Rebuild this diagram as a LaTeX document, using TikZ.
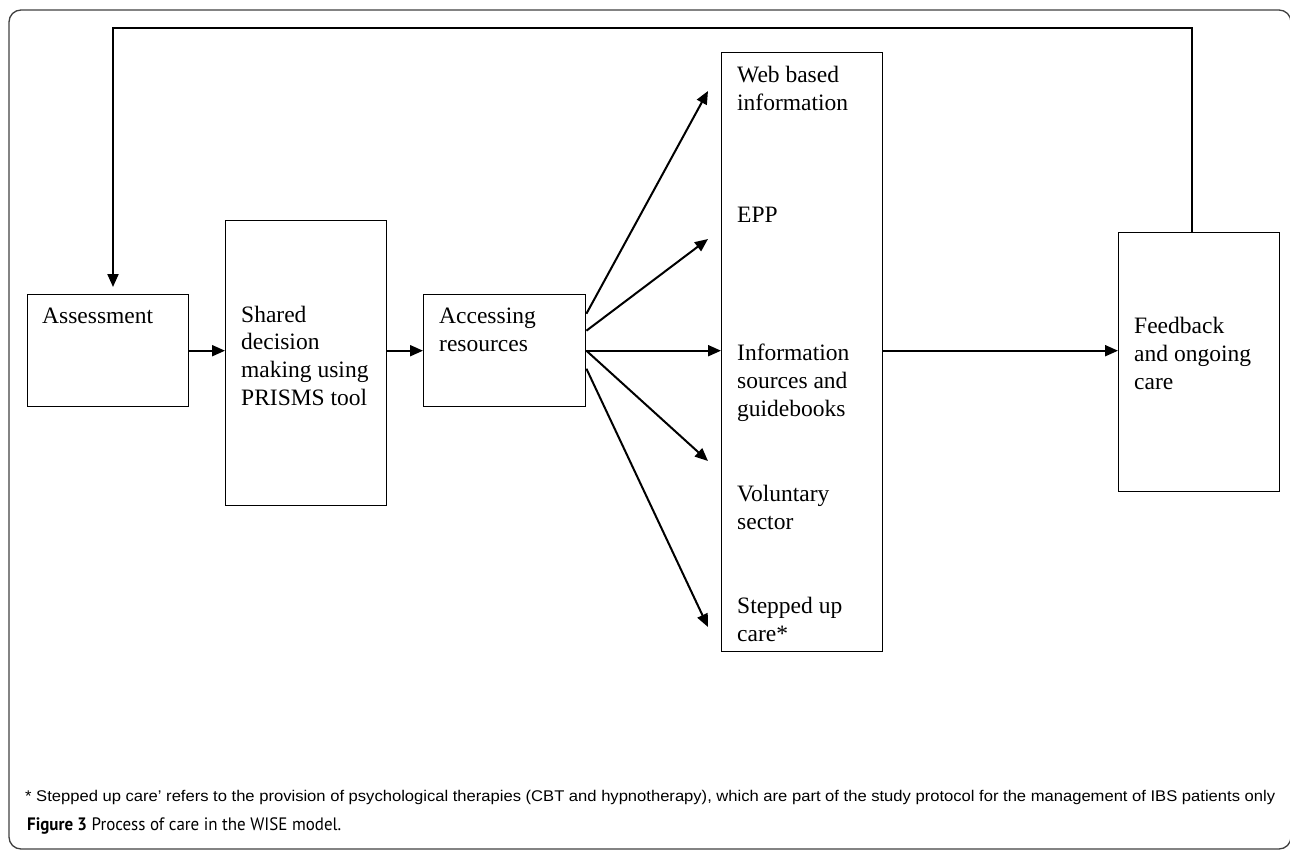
\documentclass[tikz,border=0pt]{standalone}
\usepackage{fontspec}
\usepackage{graphicx}
\setmainfont{Liberation Serif}
\newfontfamily\notefont{Liberation Sans}
\newfontfamily\capfont{PT Sans}
\usetikzlibrary{arrows.meta}

\begin{document}
\begin{tikzpicture}[x=1pt,y=-1pt,
  boxline/.style={draw=black, line width=1.4pt, inner sep=0pt, anchor=north west},
  flow/.style={line width=2pt, -{Triangle[length=13pt,width=11pt]}},
  lbl/.style={anchor=base west, inner sep=0pt, align=left, font=\fontsize{23.5}{27.6}\selectfont},
]
\useasboundingbox (0,0) rectangle (1290,851);
\draw[line width=1.3pt, draw=black!75, rounded corners=12pt] (9,10) rectangle (1291,849);

% boxes
\node[boxline, minimum width=161pt, minimum height=112pt] (assess) at (27,294) {};
\node[boxline, minimum width=161pt, minimum height=285pt] (shared) at (225,220) {};
\node[boxline, minimum width=162pt, minimum height=112pt] (access) at (423,294) {};
\node[boxline, minimum width=161pt, minimum height=599pt] (res) at (721,52) {};
\node[boxline, minimum width=161pt, minimum height=259pt] (feed) at (1118,232) {};

% texts (anchor = baseline of the last line)
\node[lbl] (tassess) at (42,323) {Assessment};
\node[lbl] (tshared) at (241,405) {Shared\\decision\\making using\\PRISMS tool};
\node[lbl] (taccess) at (439,351) {Accessing\\resources};
\node[lbl] (tweb) at (737,110) {Web based\\information};
\node[lbl] (tepp) at (737,222) {EPP};
\node[lbl] (tinfo) at (737,416) {Information\\sources and\\guidebooks};
\node[lbl] (tvol) at (737,529) {Voluntary\\sector};
\node[lbl] (tstep) at (737,641) {Stepped up\\care*};
\node[lbl] (tfeed) at (1134,389) {Feedback\\and ongoing\\care};

% free arrow ends
\coordinate (t1) at (708,91);
\coordinate (t2) at (708,239);
\coordinate (t4) at (708,461);
\coordinate (t5) at (708,627);

% connectors
\draw[flow] (assess.east) -- (assess.east -| shared.west);
\draw[flow] (assess.east -| shared.east) -- (access.west);
\draw[flow] ([yshift=37pt]access.east) -- (t1);
\draw[flow] ([yshift=20pt]access.east) -- (t2);
\draw[flow] (access.east) -- (access.east -| res.west);
\draw[flow] (access.east) -- (t4);
\draw[flow] ([yshift=-18pt]access.east) -- (t5);
\draw[flow] (access.east -| res.east) -- (access.east -| feed.west);
\draw[flow, shorten >=7pt] (1192,0 |- feed.north) -- (1192,28) -| (113,0 |- assess.north);

% footnote and caption
\node[anchor=base west, inner sep=0pt, font=\notefont\fontsize{15.5}{18}\selectfont] (note) at (25,801)
  {\resizebox{1250pt}{\height}{* Stepped up care’ refers to the provision of psychological therapies (CBT and hypnotherapy), which are part of the study protocol for the management of IBS patients only}};
\node[anchor=base west, inner sep=0pt, font=\capfont\fontsize{18}{20}\selectfont] (cap) at (27,830)
  {\resizebox{314pt}{\height}{\textbf{Figure 3} Process of care in the WISE model.}};
\end{tikzpicture}
\end{document}
